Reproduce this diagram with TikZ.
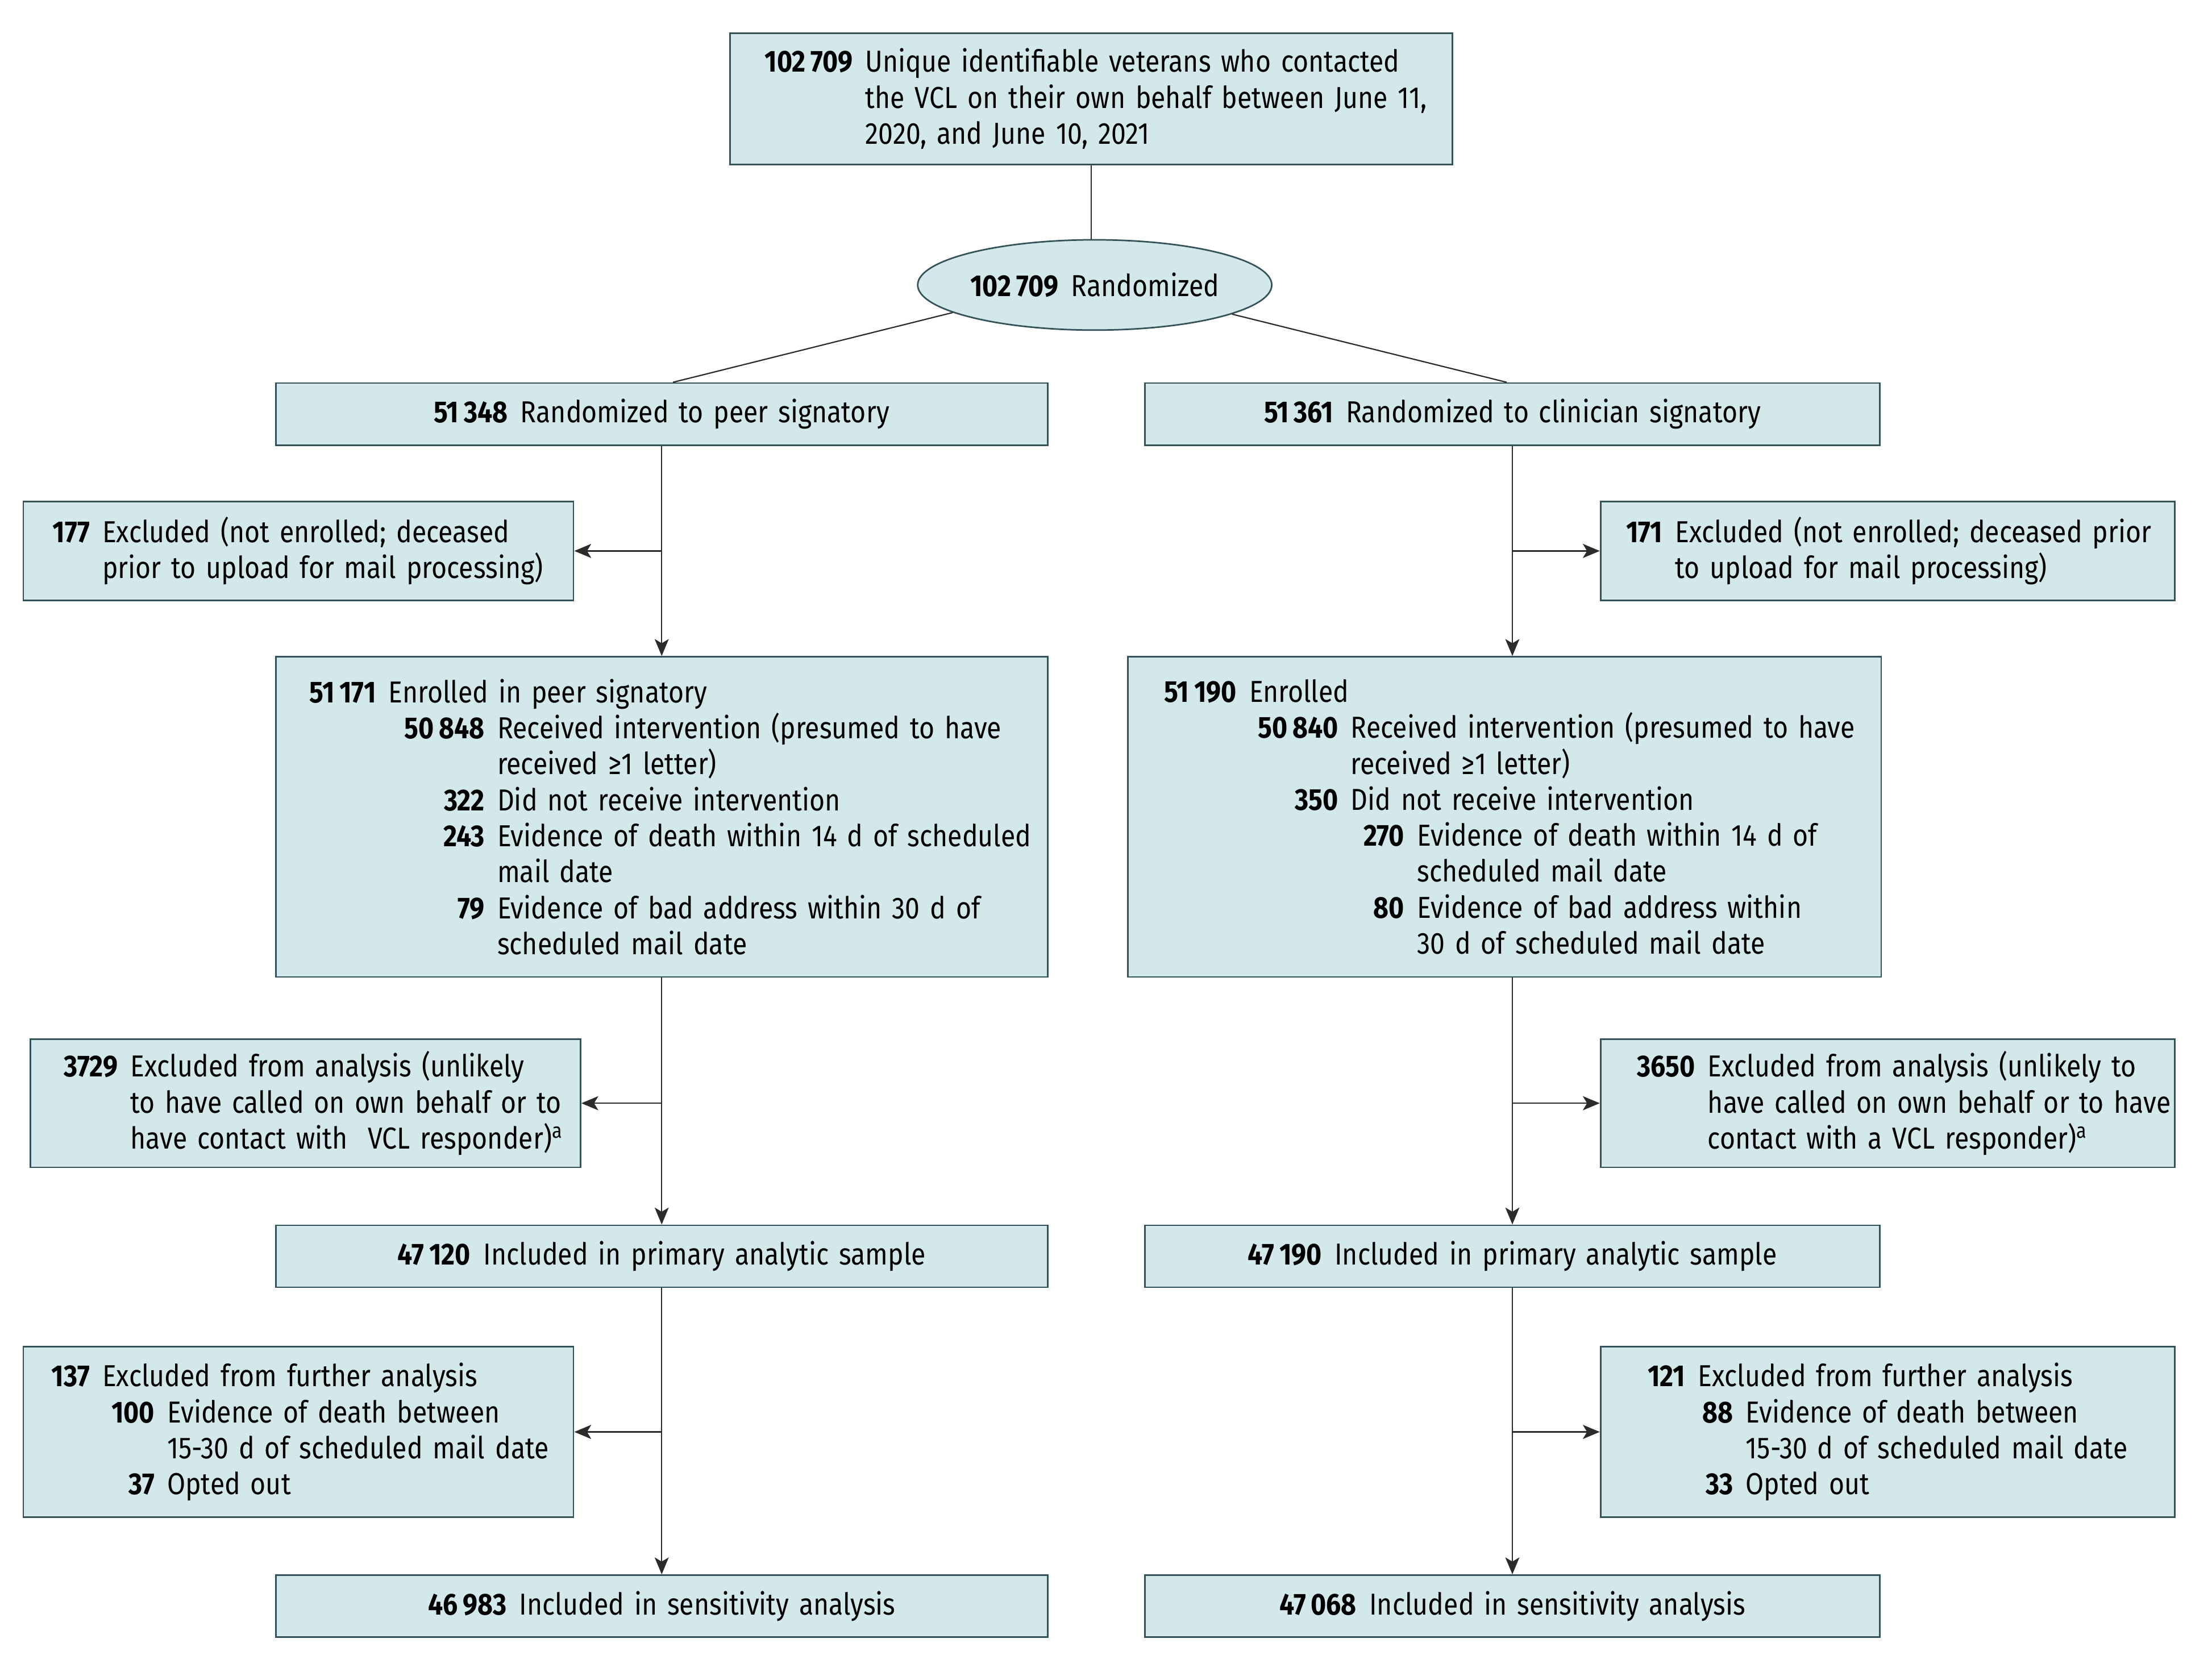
\documentclass[tikz,border=0pt]{standalone}
\usepackage{fontspec}
\setmainfont{Fira Sans}[FakeStretch=0.87]
\usepackage{xcolor}
\usepackage{tikz}
\usetikzlibrary{arrows.meta,positioning,shapes.geometric}
\definecolor{boxfill}{HTML}{D2E8EB}
\definecolor{boxline}{HTML}{34525A}
\definecolor{linkgray}{HTML}{2B2B2B}
% number right-aligned at #1, text after it; continuation line at the same indent
\newcommand{\numln}[3]{\makebox[#1][r]{\textbf{#2}}\hspace{9pt}\mbox{#3}}
\newcommand{\contln}[2]{\hspace*{\dimexpr#1+9pt\relax}\mbox{#2}}

\begin{document}
\begin{tikzpicture}[
          x=1pt,y=-1pt,
          every node/.style={font=\fontsize{21.5}{25.5}\selectfont},
          fbox/.style={draw=boxline,fill=boxfill,line width=1.1pt,
                       inner sep=0pt,anchor=north west,align=left},
          cbox/.style={fbox,align=center,minimum height=44pt},
          link/.style={draw=linkgray,line width=0.9pt},
          arr/.style={link,-{Stealth[length=12pt,width=10pt,inset=3pt]}},
      ]
        \useasboundingbox (0,0) rectangle (1568,1188);

        % top of the flow
        \node[fbox,text width=512pt,minimum height=93pt] (top) at (517,23)
          {\numln{87pt}{102\,709}{Unique identifiable veterans who contacted}\\
           \contln{87pt}{the VCL on their own behalf between June 11,}\\
           \contln{87pt}{2020, and June 10, 2021}};
        \node[ellipse,draw=boxline,fill=boxfill,line width=1.1pt,inner sep=0pt,
              minimum width=251pt,minimum height=64pt] (rand) at (776,202)
          {\textbf{102\,709}\hspace{9pt}Randomized};

        % arms
        \node[cbox,text width=547pt] (peer) at (195,271)
          {\textbf{51\,348}\hspace{9pt}Randomized to peer signatory};
        \node[cbox,text width=521pt] (clin) at (811,271)
          {\textbf{51\,361}\hspace{9pt}Randomized to clinician signatory};

        \node[fbox,text width=390pt,minimum height=70pt] (exPa) at (16,355)
          {\numln{47pt}{177}{Excluded (not enrolled; deceased}\\
           \contln{47pt}{prior to upload for mail processing)}};
        \node[fbox,text width=407pt,minimum height=70pt] (exCa) at (1134,355)
          {\numln{44pt}{171}{Excluded (not enrolled; deceased prior}\\
           \contln{44pt}{to upload for mail processing)}};

        \node[fbox,text width=547pt,minimum height=227pt] (enrP) at (195,465)
          {\numln{71pt}{51\,171}{Enrolled in peer signatory}\\
           \numln{148pt}{50\,848}{Received intervention (presumed to have}\\
           \contln{148pt}{received ≥1 letter)}\\
           \numln{148pt}{322}{Did not receive intervention}\\
           \numln{148pt}{243}{Evidence of death within 14 d of scheduled}\\
           \contln{148pt}{mail date}\\
           \numln{148pt}{79}{Evidence of bad address within 30 d of}\\
           \contln{148pt}{scheduled mail date}};
        \node[fbox,text width=534pt,minimum height=227pt] (enrC) at (799,465)
          {\numln{77pt}{51\,190}{Enrolled}\\
           \numln{149pt}{50\,840}{Received intervention (presumed to have}\\
           \contln{149pt}{received ≥1 letter)}\\
           \numln{149pt}{350}{Did not receive intervention}\\
           \numln{196pt}{270}{Evidence of death within 14 d of}\\
           \contln{196pt}{scheduled mail date}\\
           \numln{196pt}{80}{Evidence of bad address within}\\
           \contln{196pt}{30 d of scheduled mail date}};

        \node[fbox,text width=390pt,minimum height=91pt] (exPb) at (21,736)
          {\numln{62pt}{3729}{Excluded from analysis (unlikely}\\
           \contln{62pt}{to have called on own behalf or to}\\
           \contln{62pt}{have contact with\ \ VCL responder)\textsuperscript{a}}};
        \node[fbox,text width=407pt,minimum height=91pt] (exCb) at (1134,736)
          {\numln{67pt}{3650}{Excluded from analysis (unlikely to}\\
           \contln{67pt}{have called on own behalf or to have}\\
           \contln{67pt}{contact with a VCL responder)\textsuperscript{a}}};

        \node[cbox,text width=547pt] (primP) at (195,868)
          {\textbf{47\,120}\hspace{9pt}Included in primary analytic sample};
        \node[cbox,text width=521pt] (primC) at (811,868)
          {\textbf{47\,190}\hspace{9pt}Included in primary analytic sample};

        \node[fbox,text width=390pt,minimum height=121pt] (exPc) at (16,954)
          {\numln{47pt}{137}{Excluded from further analysis}\\
           \numln{93pt}{100}{Evidence of death between}\\
           \contln{93pt}{15-30 d of scheduled mail date}\\
           \numln{93pt}{37}{Opted out}};
        \node[fbox,text width=407pt,minimum height=121pt] (exCc) at (1134,954)
          {\numln{60pt}{121}{Excluded from further analysis}\\
           \numln{94pt}{88}{Evidence of death between}\\
           \contln{94pt}{15-30 d of scheduled mail date}\\
           \numln{94pt}{33}{Opted out}};

        \node[cbox,text width=547pt] (sensP) at (195,1116)
          {\textbf{46\,983}\hspace{9pt}Included in sensitivity analysis};
        \node[cbox,text width=521pt] (sensC) at (811,1116)
          {\textbf{47\,068}\hspace{9pt}Included in sensitivity analysis};

        % connectors
        \draw[link] (top.south) -- (top.south |- rand.north);
        \draw[link] (rand.-169) -- ([xshift=8pt]peer.north);
        \draw[link] (rand.-12) -- ([xshift=-4pt]clin.north);

        \draw[arr] (peer.south) -- (enrP.north);
        \draw[arr] (peer.south |- exPa.east) -- (exPa.east);
        \draw[arr] (enrP.south) -- (primP.north);
        \draw[arr] (enrP.south |- exPb.east) -- (exPb.east);
        \draw[arr] (primP.south) -- (sensP.north);
        \draw[arr] (primP.south |- exPc.east) -- (exPc.east);

        \draw[arr] (clin.south) -- (clin.south |- enrC.north);
        \draw[arr] (clin.south |- exCa.west) -- (exCa.west);
        \draw[arr] (enrC.south -| primC.north) -- (primC.north);
        \draw[arr] (primC.north |- exCb.west) -- (exCb.west);
        \draw[arr] (primC.south) -- (sensC.north);
        \draw[arr] (primC.south |- exCc.west) -- (exCc.west);
      \end{tikzpicture}
\end{document}
